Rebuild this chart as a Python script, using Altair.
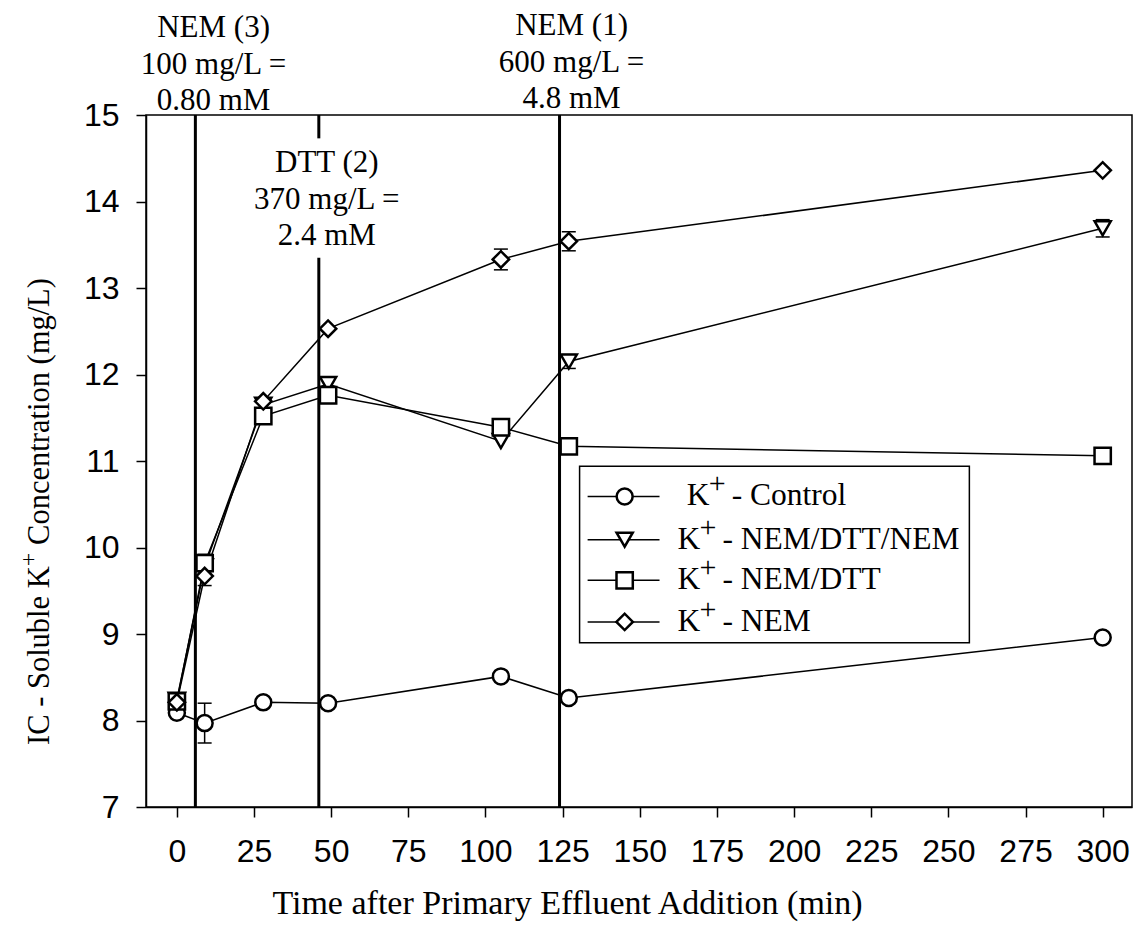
import altair as alt
import pandas as pd

# Sampling times (min after primary effluent addition)
times = [0, 9, 28, 49, 105, 127, 300]

series_names = ["Control", "NEM/DTT/NEM", "NEM/DTT", "NEM"]
series_shapes = ["circle", "triangle-down", "square", "diamond"]
series_sizes = [256, 270, 210, 360]

# Soluble K+ measured by IC (mg/L)
k_control = [8.09, 7.97, 8.21, 8.20, 8.51, 8.26, 8.96]
k_nem_dtt_nem = [8.24, 9.78, 11.65, 11.89, 11.23, 12.15, 13.69]
k_nem_dtt = [8.22, 9.82, 11.52, 11.76, 11.39, 11.17, 11.06]
k_nem = [8.21, 9.67, 11.69, 12.53, 13.33, 13.54, 14.36]

# Standard deviations (0 = no bar drawn)
sd_control = [0, 0.23, 0, 0, 0, 0, 0]
sd_nem_dtt_nem = [0, 0, 0, 0, 0, 0.08, 0.10]
sd_nem_dtt = [0, 0.10, 0, 0, 0, 0, 0]
sd_nem = [0, 0.11, 0, 0, 0.12, 0.11, 0]

# Reagent additions
add_times = [6, 46, 124]
add_labels = [
    "NEM (3)\n100 mg/L =\n0.80 mM",
    "DTT (2)\n370 mg/L =\n2.4 mM",
    "NEM (1)\n600 mg/L =\n4.8 mM",
]

# Y-axis title pieces (the "+" is set as a raised superscript)
ytitle_parts = ["IC - Soluble K", "+", "Concentration (mg/L)"]

SERIF = "Liberation Serif"
SANS = "Liberation Sans"

# ---- tidy tables -------------------------------------------------------
values = [k_control, k_nem_dtt_nem, k_nem_dtt, k_nem]
sds = [sd_control, sd_nem_dtt_nem, sd_nem_dtt, sd_nem]
rows = []
for name, vals, errs in zip(series_names, values, sds):
    for t, v, e in zip(times, vals, errs):
        rows.append({"series": name, "t": t, "v": v, "lo": v - e, "hi": v + e, "sd": e})
df = pd.DataFrame(rows)
err_df = df[df["sd"] > 0]

# vertical addition markers (DTT line is broken around its label)
rule_df = pd.DataFrame({
    "t": [add_times[0], add_times[1], add_times[1], add_times[2]],
    "v": [15, 15, 13.35, 15],
    "v2": [7, 14.73, 7, 7],
})
label_df = pd.DataFrame({
    "t": [11.9, 48.6, 127.9],
    "v": [15.90, 14.34, 15.92],
    "text": add_labels,
})

# legend laid out in data units
leg_rows_v = [10.59, 10.09, 9.62, 9.14]
leg_df = pd.DataFrame({
    "series": series_names,
    "v": leg_rows_v,
    "t": [145.1] * 4,
    "t_line0": [133.1] * 4,
    "t_line1": [156.4] * 4,
    "t_text": [165.2, 162.2, 162.2, 162.2],
    "k": ["K"] * 4,
    "plus": ["+"] * 4,
    "label": ["- " + s for s in series_names],
})
box_df = pd.DataFrame({"t": [130.5], "t2": [256.8], "v": [8.90], "v2": [10.94]})

# y-title pieces run upward along the axis
ytitle_main = pd.DataFrame({"v": [7.717, 10.03], "text": [ytitle_parts[0], ytitle_parts[2]]})
ytitle_sup = pd.DataFrame({"v": [9.784], "text": [ytitle_parts[1]]})

# ---- shared encodings -----------------------------------------------------
xscale = alt.Scale(domain=[-10, 309.5], nice=False, zero=False)
yscale = alt.Scale(domain=[7, 15], nice=False, zero=False)
X = alt.X("t:Q", scale=xscale, title="Time after Primary Effluent Addition (min)",
          axis=alt.Axis(values=list(range(0, 301, 25)), grid=False, format="d",
                        titleX=421, titleY=106, titleAlign="center",
                        titleBaseline="alphabetic", titleFontSize=34))
Y = alt.Y("v:Q", scale=yscale, title=None,
          axis=alt.Axis(values=list(range(7, 16)), grid=False, format="d"))
shape_enc = alt.Shape("series:N", scale=alt.Scale(domain=series_names, range=series_shapes), legend=None)
size_enc = alt.Size("series:N", scale=alt.Scale(domain=series_names, range=series_sizes), legend=None)

rules = alt.Chart(rule_df).mark_rule(color="black", strokeWidth=3).encode(
    x=X, y=Y, y2="v2:Q")

err_bar = alt.Chart(err_df).mark_rule(color="black", strokeWidth=1.5).encode(
    x=X, y=alt.Y("lo:Q", scale=yscale), y2="hi:Q")
cap_lo = alt.Chart(err_df).mark_tick(orient="horizontal", color="black", size=14,
                                     thickness=1.5, opacity=1).encode(
    x=X, y=alt.Y("lo:Q", scale=yscale))
cap_hi = alt.Chart(err_df).mark_tick(orient="horizontal", color="black", size=14,
                                     thickness=1.5, opacity=1).encode(
    x=X, y=alt.Y("hi:Q", scale=yscale))

lines = alt.Chart(df).mark_line(color="black", strokeWidth=1.5).encode(
    x=X, y=Y, detail="series:N", order="t:Q")

points = alt.Chart(df).mark_point(filled=True, fill="white", stroke="black",
                                  strokeWidth=2.5, opacity=1, fillOpacity=1).encode(
    x=X, y=Y, shape=shape_enc, size=size_enc)

labels = alt.Chart(label_df).mark_text(font=SERIF, fontSize=31, lineBreak="\n",
                                       lineHeight=36.5, baseline="alphabetic",
                                       align="center", color="black").encode(
    x=X, y=Y, text="text:N")

leg_box = alt.Chart(box_df).mark_rect(fill="white", stroke="black", strokeWidth=1.5).encode(
    x=X, x2="t2:Q", y=Y, y2="v2:Q")
leg_lines = alt.Chart(leg_df).mark_rule(color="black", strokeWidth=1.5).encode(
    x=alt.X("t_line0:Q", scale=xscale), x2="t_line1:Q", y=Y)
leg_points = alt.Chart(leg_df).mark_point(filled=True, fill="white", stroke="black",
                                          strokeWidth=2.5, opacity=1, fillOpacity=1).encode(
    x=X, y=Y, shape=shape_enc, size=size_enc)
leg_k = alt.Chart(leg_df).mark_text(font=SERIF, fontSize=31.5, align="left",
                                    baseline="middle", color="black").encode(
    x=alt.X("t_text:Q", scale=xscale), y=Y, text="k:N")
leg_plus = alt.Chart(leg_df).mark_text(font=SERIF, fontSize=30, align="left",
                                       baseline="middle", dx=22, dy=-12, color="black").encode(
    x=alt.X("t_text:Q", scale=xscale), y=Y, text="plus:N")
leg_label = alt.Chart(leg_df).mark_text(font=SERIF, fontSize=31.5, align="left",
                                        baseline="middle", dx=45, color="black").encode(
    x=alt.X("t_text:Q", scale=xscale), y=Y, text="label:N")

ytitle_a = alt.Chart(ytitle_main).mark_text(font=SERIF, fontSize=30.5, angle=270,
                                            align="left", baseline="middle",
                                            color="black").encode(
    x=alt.value(-106), y=Y, text="text:N")
ytitle_b = alt.Chart(ytitle_sup).mark_text(font=SERIF, fontSize=24, angle=270,
                                           align="left", baseline="middle",
                                           color="black").encode(
    x=alt.value(-117), y=Y, text="text:N")

chart = alt.layer(
    rules, err_bar, cap_lo, cap_hi, lines, points, labels,
    leg_box, leg_lines, leg_points, leg_k, leg_plus, leg_label,
    ytitle_a, ytitle_b,
).properties(
    width=986,
    height=692,
    padding={"left": 146, "top": 115, "right": 2, "bottom": 124},
    autosize=alt.AutoSizeParams(type="none"),
).configure_view(
    stroke="black", strokeWidth=1.5,
).configure_axis(
    domainColor="black", domainWidth=1.5,
    tickColor="black", tickWidth=1.5, tickSize=10,
    labelFont=SANS, labelFontSize=32, labelColor="black",
    titleFont=SERIF, titleColor="black", titleFontWeight="normal",
).configure_axisX(
    labelPadding=19,
).configure_axisY(
    labelPadding=17,
)

chart.save("out.html", embed_options={"renderer": "svg", "actions": False})
